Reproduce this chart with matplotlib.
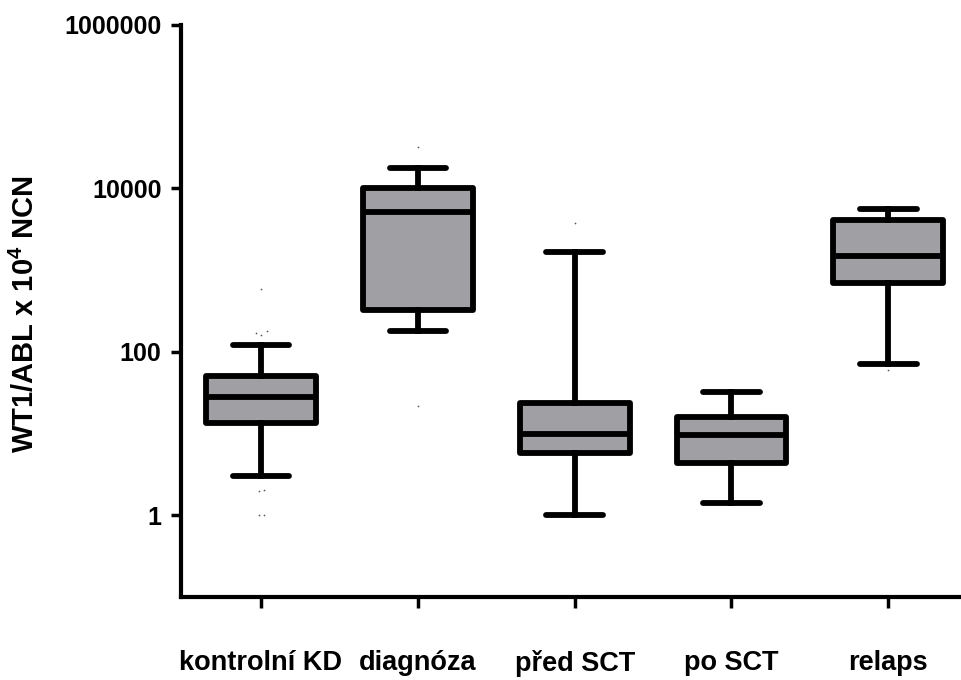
import matplotlib
matplotlib.use("Agg")
import matplotlib.pyplot as plt

plt.rcParams['font.family'] = ['Liberation Sans', 'DejaVu Sans']
plt.rcParams['font.weight'] = 'bold'
plt.rcParams['mathtext.fontset'] = 'custom'
plt.rcParams['mathtext.rm'] = 'Liberation Sans:bold'
plt.rcParams['mathtext.default'] = 'rm'

# Groups and box-plot summary values (WT1/ABL x 10^4 NCN)
categories = ['kontrolní KD', 'diagnóza', 'před SCT', 'po SCT', 'relaps']
whisker_low = [3.0, 181, 1.0, 1.41, 72]
q1 = [13.3, 324, 5.86, 4.37, 687]
median = [27.9, 5170, 10.0, 9.7, 1483]
q3 = [50.4, 10000, 23.5, 16.0, 4090]
whisker_high = [121, 17900, 1675, 32.3, 5530]
outliers = [[585, 171, 160, 180, 2.0, 2.05, 1.0, 1.0],
            [32300, 21.8],
            [3760],
            [],
            [59.6]]
ytick_values = [1, 100, 10000, 1000000]
ytick_labels = ['1', '100', '10000', '1000000']

box_face = '#a09fa4'

fig = plt.figure(figsize=(9.62, 6.8), dpi=100)
ax = fig.add_axes([181 / 962, 1 - 597 / 680, 1 - 181 / 962, (597 - 25) / 680])

stats = []
for i, name in enumerate(categories):
    stats.append(dict(label=name, whislo=whisker_low[i], q1=q1[i], med=median[i],
                      q3=q3[i], whishi=whisker_high[i], fliers=[]))

positions = list(range(1, len(categories) + 1))
lw = 4.2
ax.bxp(stats, positions=positions, widths=0.70, patch_artist=True, showfliers=False,
       boxprops=dict(facecolor=box_face, edgecolor='black', linewidth=lw,
                     joinstyle='round'),
       medianprops=dict(color='black', linewidth=lw, solid_capstyle='butt'),
       whiskerprops=dict(color='black', linewidth=lw),
       capprops=dict(color='black', linewidth=lw, solid_capstyle='round'),
       capwidths=0.36)

# scattered individual points beyond the whiskers
jitter_kd = [0, -0.03, 0.0, 0.04, -0.015, 0.02, -0.015, 0.02]
for i, pts in enumerate(outliers):
    if pts:
        offsets = jitter_kd[:len(pts)] if len(pts) > 2 else [0] * len(pts)
        xs = [positions[i] + d for d in offsets]
        ax.scatter(xs, pts, s=1.5, color='#555555', linewidths=0, zorder=3)

ax.set_yscale('log')
ax.set_ylim(0.1, 1e6)
ax.set_xlim(0.49, 5.47)
ax.set_yticks(ytick_values)
ax.set_yticklabels(ytick_labels)
ax.yaxis.set_minor_locator(matplotlib.ticker.NullLocator())
ax.set_xticks(positions)
ax.set_xticklabels(categories)

for s in ['top', 'right']:
    ax.spines[s].set_visible(False)
for s in ['left', 'bottom']:
    ax.spines[s].set_linewidth(3.0)
    ax.spines[s].set_capstyle('projecting')

ax.tick_params(axis='y', length=7, width=2.5, labelsize=18, pad=7)
ax.tick_params(axis='x', length=8, width=2.5, labelsize=19.5, pad=30)
for lab in ax.get_xticklabels() + ax.get_yticklabels():
    lab.set_fontweight('bold')

ax.set_ylabel('WT1/ABL x 10$^{4}$ NCN', fontsize=21, fontweight='bold')
ax.yaxis.set_label_coords((40 - 181) / 781, 0.495)

fig.savefig('out.png', dpi=100)
